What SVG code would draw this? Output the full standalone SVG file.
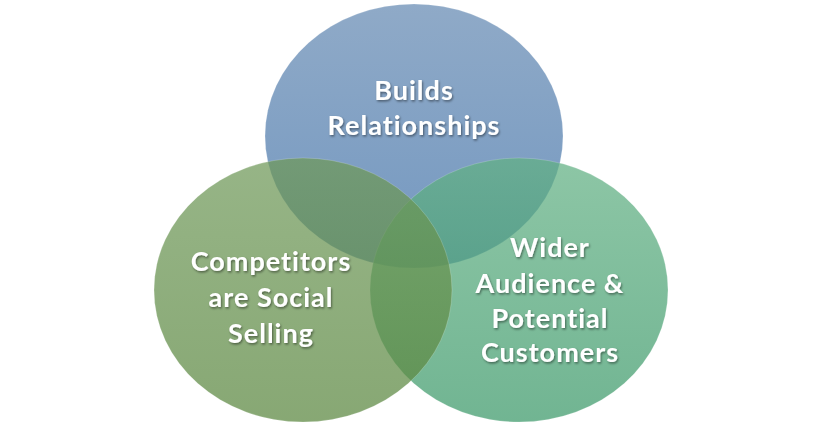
<svg xmlns="http://www.w3.org/2000/svg" width="828" height="428" viewBox="0 0 828 428">
  <defs>
    <linearGradient id="gBlue" x1="0" y1="0" x2="0" y2="1">
      <stop offset="0" stop-color="#6489B2"/>
      <stop offset="1" stop-color="#3E70A8"/>
    </linearGradient>
    <linearGradient id="gTeal" x1="0" y1="0" x2="0" y2="1">
      <stop offset="0" stop-color="#61B083"/>
      <stop offset="1" stop-color="#3A9868"/>
    </linearGradient>
    <linearGradient id="gGreen" x1="0" y1="0" x2="0" y2="1">
      <stop offset="0" stop-color="#6E9858"/>
      <stop offset="1" stop-color="#59863E"/>
    </linearGradient>
    <filter id="tshadow" x="-10%" y="-20%" width="120%" height="150%">
      <feDropShadow dx="1" dy="1.5" stdDeviation="1.2" flood-color="#000" flood-opacity="0.45"/>
    </filter>
  </defs>
  <style>
    .circle { fill-opacity: 0.72; stroke: #ffffff; stroke-opacity: 0.18; stroke-width: 1; }
    .label { font-family: Lato, "Open Sans", "Liberation Sans", sans-serif; font-weight: bold; font-size: 27px; letter-spacing: 1px; fill: #ffffff; text-anchor: middle; filter: url(#tshadow); }
  </style>
  <rect width="828" height="428" fill="#ffffff"/>
  <g id="node-builds">
    <ellipse class="circle" cx="414" cy="136" rx="149" ry="132" fill="url(#gBlue)"/>
  </g>
  <g id="node-wider">
    <ellipse class="circle" cx="519" cy="290" rx="149" ry="132" fill="url(#gTeal)"/>
  </g>
  <g id="node-competitors">
    <ellipse class="circle" cx="303" cy="290" rx="149" ry="132" fill="url(#gGreen)"/>
  </g>
  <g id="labels">
    <text class="label" x="414" y="100">Builds</text>
    <text class="label" x="414" y="135">Relationships</text>
    <text class="label" x="271" y="271">Competitors</text>
    <text class="label" x="271" y="307">are Social</text>
    <text class="label" x="271" y="343">Selling</text>
    <text class="label" x="550" y="257">Wider</text>
    <text class="label" x="550" y="293">Audience &amp;</text>
    <text class="label" x="550" y="328">Potential</text>
    <text class="label" x="550" y="362">Customers</text>
  </g>
  <g id="connectors"/>
</svg>
